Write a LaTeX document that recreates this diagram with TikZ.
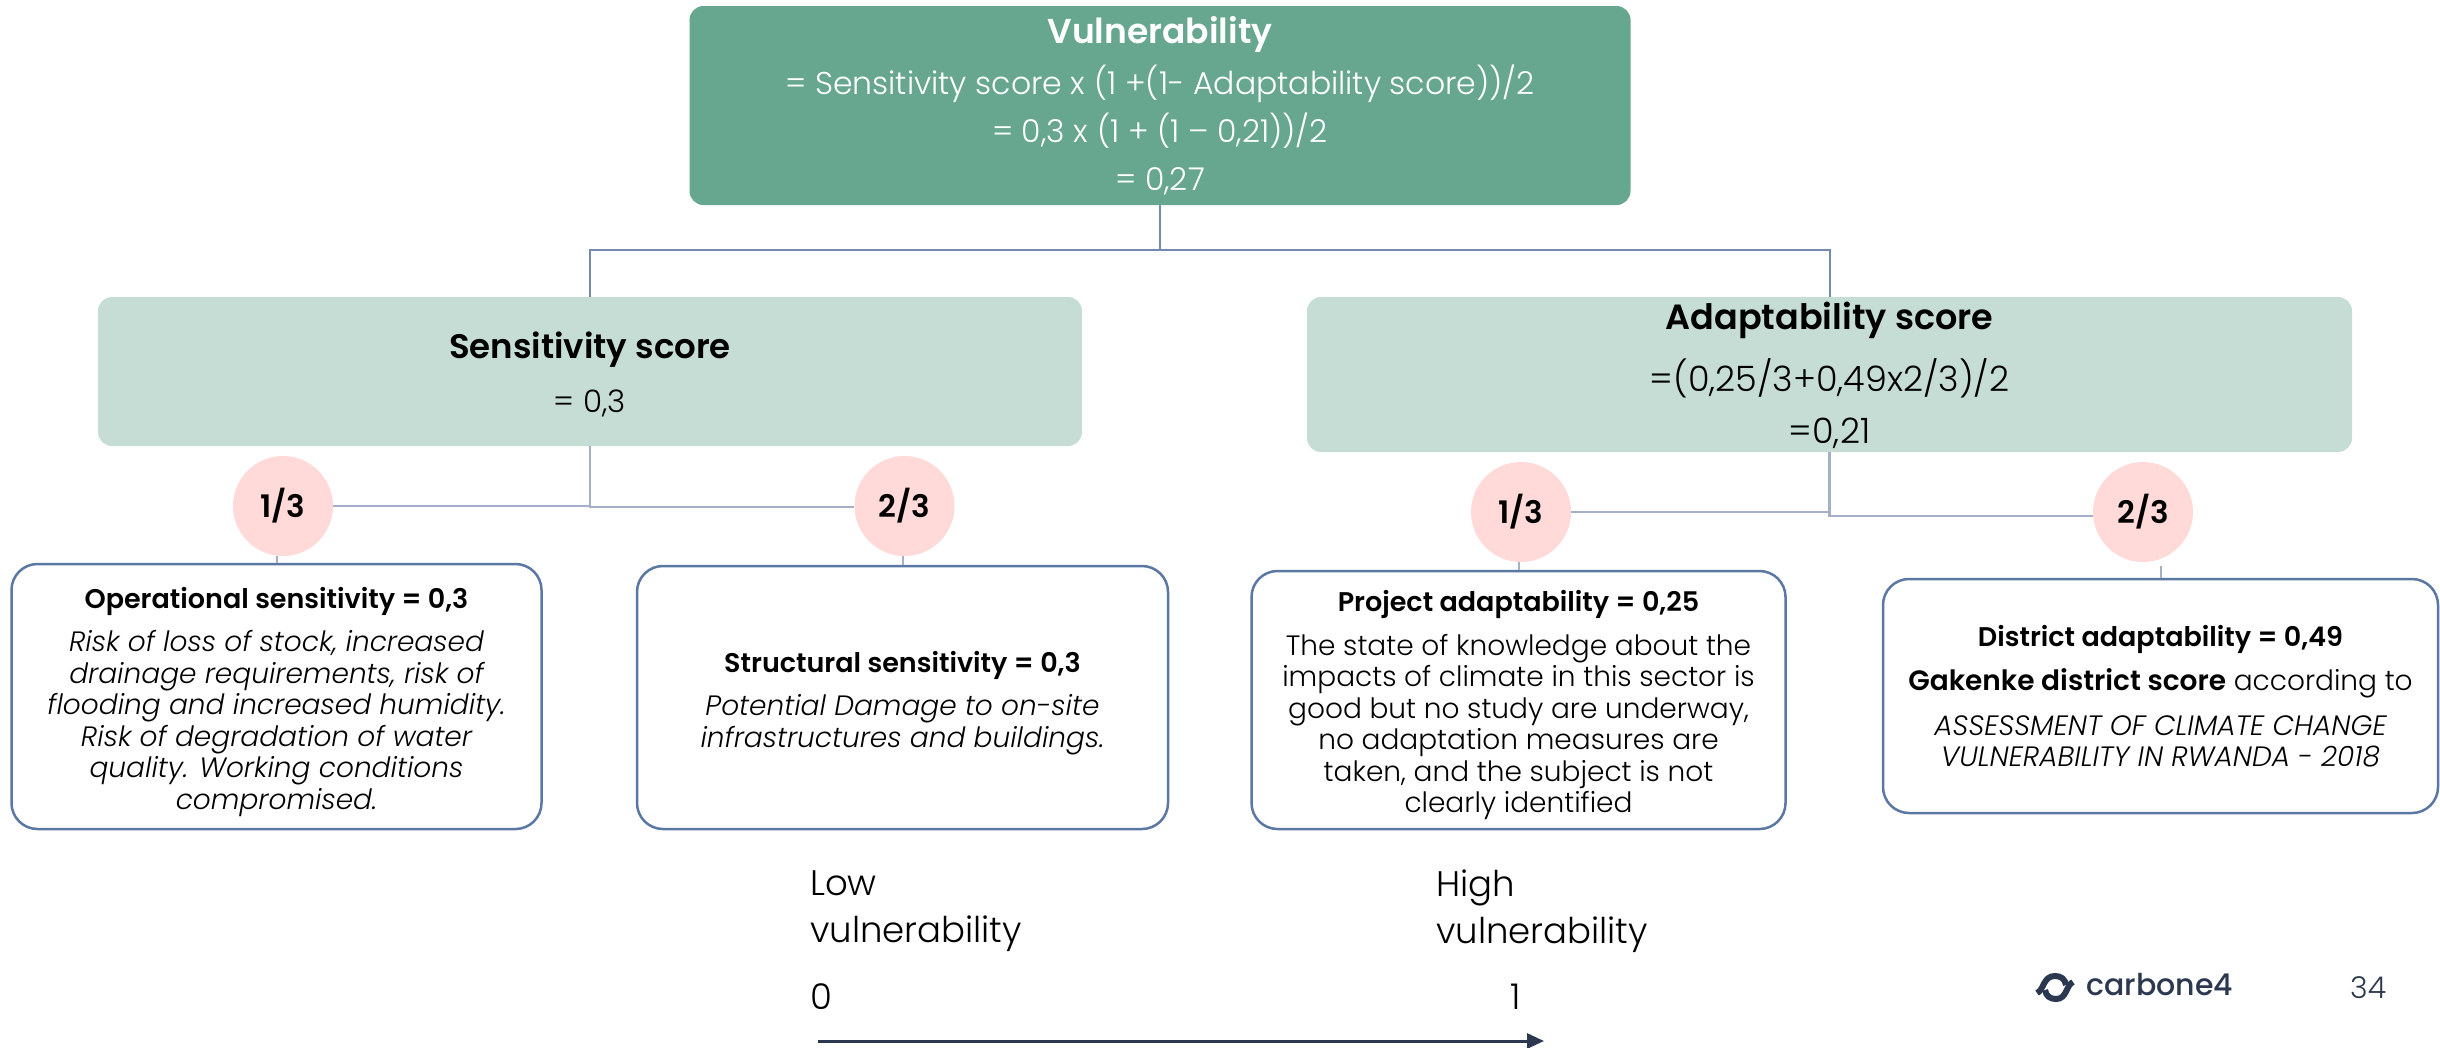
\documentclass[tikz,border=0pt]{standalone}
\usepackage{fontspec}
\usetikzlibrary{arrows.meta}
\setmainfont{Poppins}[UprightFont=* Light,ItalicFont=* Light Italic,BoldFont=* SemiBold,BoldItalicFont=* SemiBold Italic]
\newfontfamily\logofont{Poppins}[UprightFont=* Medium]
\definecolor{vulngreen}{HTML}{68A78F}
\definecolor{scoregreen}{HTML}{C5DDD4}
\definecolor{weightpink}{HTML}{FFDAD8}
\definecolor{linkblue}{HTML}{A4AFC8}
\definecolor{framblue}{HTML}{5B77A3}
\definecolor{inkblue}{HTML}{2C3850}
\tikzset{
	scorebox/.style={rectangle,rounded corners=14pt,fill=scoregreen,align=center,inner sep=0pt},
	detailbox/.style={rectangle,rounded corners=26pt,draw=framblue,line width=2.5pt,fill=white,align=center,inner sep=0pt,font=\fontsize{28}{31.5}\selectfont},
	weight/.style={circle,fill=weightpink,minimum size=100pt,inner sep=0pt,font=\fontsize{31}{36}\selectfont\bfseries},
	link/.style={draw=linkblue,line width=2.5pt},
	scale note/.style={anchor=west,align=left,inner sep=0pt,font=\fontsize{35.5}{47}\selectfont}
}
\newcommand{\headtext}[1]{{\fontsize{27}{31.5}\selectfont\bfseries #1}}
\newcommand{\headlift}{\rule{0pt}{32pt}}
\begin{document}
\begin{tikzpicture}[x=1pt,y=-1pt]
	\useasboundingbox (0,0) rectangle (2440,1047);
	\node [scorebox,fill=vulngreen,text=white,minimum width=941pt,minimum height=199pt,font=\fontsize{31.5}{48}\selectfont] (vuln) at (1160,105.5)
		{{\fontsize{34.5}{48}\selectfont\bfseries Vulnerability}\\[3pt]= Sensitivity score x (1 +(1- Adaptability score))/2\\= 0,3 x (1 + (1 -- 0,21))/2\\= 0,27};
	\node [scorebox,minimum width=984pt,minimum height=149pt,font=\fontsize{31}{54}\selectfont] (sens) at (590,371.5)
		{\rule{0pt}{32pt}{\fontsize{34}{54}\selectfont\bfseries Sensitivity score}\\= 0,3};
	\node [scorebox,minimum width=1045pt,minimum height=155pt,font=\fontsize{35}{52}\selectfont] (adapt) at (1829.5,374.5)
		{\rule{0pt}{30pt}{\fontsize{35}{52}\selectfont\bfseries Adaptability score}\\[10pt]=(0,25/3+0,49x2/3)/2\\=0,21};
	\coordinate (vulnjoin) at (1160,250);

	\node [weight] (opsweight) at (283,506) {1/3};
	\node [weight] (structweight) at (904.5,506) {2/3};
	\node [weight] (projweight) at (1521,512) {1/3};
	\node [weight] (distweight) at (2143,512) {2/3};

	\node [detailbox,minimum width=530pt,minimum height=265pt] (ops) at (276.5,696.5)
		{\headlift\headtext{Operational sensitivity = 0,3}\\[12pt]\itshape Risk of loss of stock, increased\\\itshape drainage requirements, risk of\\\itshape flooding and increased humidity.\\\itshape Risk of degradation of water\\\itshape quality. Working conditions\\\itshape compromised.};
	\node [detailbox,minimum width=531pt,minimum height=263pt] (struct) at (902.5,697.5)
		{\headlift\headtext{Structural sensitivity = 0,3}\\[12pt]\itshape Potential Damage to on-site\\\itshape infrastructures and buildings.};
	\node [detailbox,minimum width=534pt,minimum height=258pt] (proj) at (1518.5,700)
		{\headlift\headtext{Project adaptability = 0,25}\\[12pt]The state of knowledge about the\\impacts of climate in this sector is\\good but no study are underway,\\no adaptation measures are\\taken, and the subject is not\\clearly identified};
	\node [detailbox,minimum width=555pt,minimum height=234pt] (dist) at (2160.5,696)
		{\headtext{District adaptability = 0,49}\\[13pt]\textbf{Gakenke district score} according to\\[13pt]\itshape ASSESSMENT OF CLIMATE CHANGE\\\itshape VULNERABILITY IN RWANDA - 2018};

	\draw [draw=framblue!85!white,line width=2pt] (vuln.south) -- (vulnjoin);
	\draw [draw=framblue!85!white,line width=2pt] (sens.north) |- (vulnjoin);
	\draw [draw=framblue!85!white,line width=2pt] (adapt.north) |- (vulnjoin);

	\draw [link] (sens.south) |- (opsweight.east);
	\draw [link] (sens.south) |- ([yshift=-1pt]structweight.west);
	\draw [link] (adapt.south) |- (projweight.east);
	\draw [link] (adapt.south) |- ([yshift=-4pt]distweight.west);
	\draw [link,line width=2pt] (ops.north) -- (ops.north |- opsweight.south);
	\draw [link,line width=2pt] (struct.north) -- (struct.north |- structweight.south);
	\draw [link,line width=2pt] (proj.north) -- (proj.north |- projweight.south);
	\draw [link,line width=2pt] (dist.north) -- ([yshift=-4pt]dist.north |- distweight.south);

	\node [scale note] (lowlabel) at (810,911) {Low\\vulnerability};
	\node [scale note] (highlabel) at (1436,911) {High\\vulnerability};
	\node [scale note,anchor=base west] (zerolabel) at (810,1009) {0};
	\node [scale note,anchor=base] (onelabel) at (1516,1009) {1};
	\coordinate (scalestart) at (818,1041);
	\coordinate (scaleend) at (1544,1041);
	\draw [-{Triangle[length=17pt,width=15pt]},draw=inkblue,fill=inkblue,line width=3pt] (scalestart) -- (scaleend);

	\node [anchor=base west,inner sep=0pt,text=inkblue,font=\fontsize{30}{30}\logofont] (logotext) at (2086,995) {carbone4};
	\draw [inkblue,line width=6pt] (2037,993) .. controls (2044,990) and (2043,976) .. (2055,976) .. controls (2061,976) and (2065,979) .. (2066,985);
	\draw [inkblue,line width=6pt] (2073,982) .. controls (2066,985) and (2067,999) .. (2056,999) .. controls (2050,999) and (2046,996) .. (2045,990);
	\node [anchor=base west,inner sep=0pt,text=inkblue,font=\fontsize{30}{30}\selectfont] (pagenumber) at (2350,998) {34};
\end{tikzpicture}
\end{document}
